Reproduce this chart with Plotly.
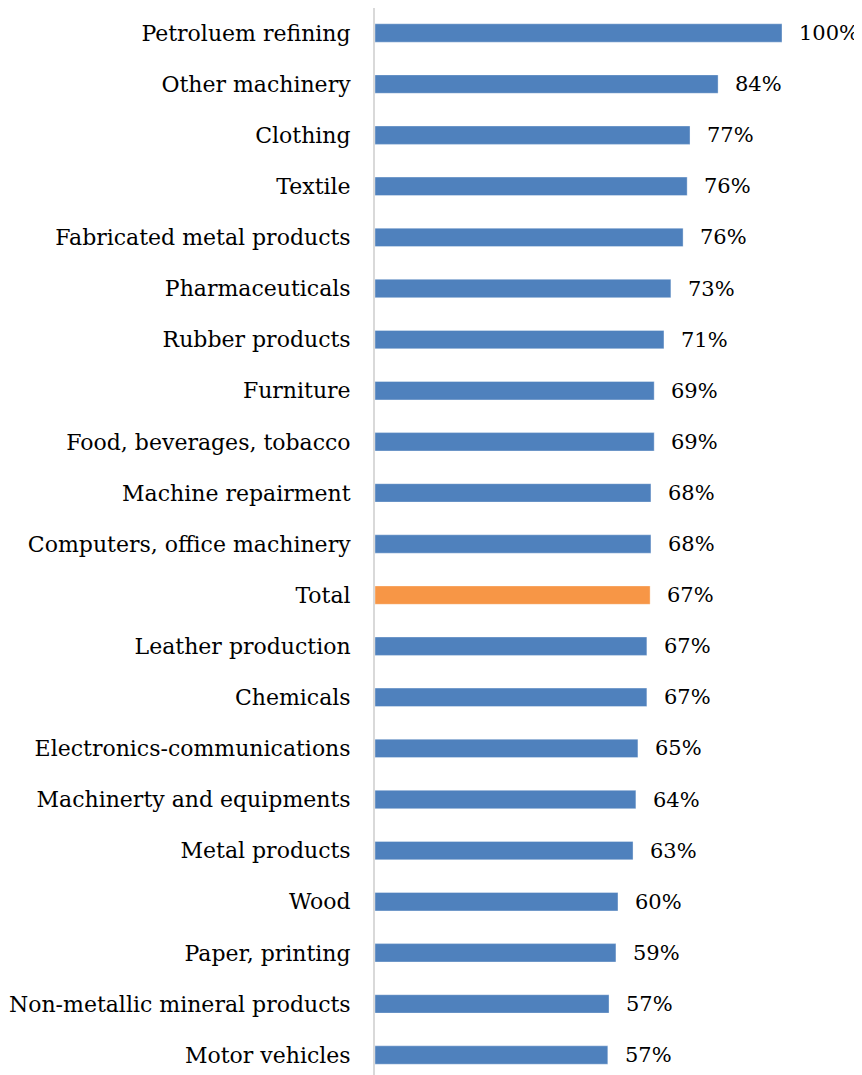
import plotly.graph_objects as go

categories = [
    "Petroluem refining", "Other machinery", "Clothing", "Textile",
    "Fabricated metal products", "Pharmaceuticals", "Rubber products",
    "Furniture", "Food, beverages, tobacco", "Machine repairment",
    "Computers, office machinery", "Total", "Leather production",
    "Chemicals", "Electronics-communications", "Machinerty and equipments",
    "Metal products", "Wood", "Paper, printing",
    "Non-metallic mineral products", "Motor vehicles",
]
values = [1.000, 0.843, 0.774, 0.767, 0.757, 0.727, 0.710, 0.686, 0.686,
          0.678, 0.678, 0.676, 0.668, 0.668, 0.646, 0.641, 0.634, 0.597,
          0.592, 0.575, 0.572]
labels = ["100%", "84%", "77%", "76%", "76%", "73%", "71%", "69%", "69%",
          "68%", "68%", "67%", "67%", "67%", "65%", "64%", "63%", "60%",
          "59%", "57%", "57%"]

BLUE = "#4F81BD"
ORANGE = "#F79646"
colors = [ORANGE if c == "Total" else BLUE for c in categories]

FONT = "DejaVu Serif"

fig = go.Figure()
fig.add_trace(go.Bar(
    x=values, y=categories, orientation="h",
    marker=dict(color=colors, line=dict(color="rgba(255,255,255,0.35)", width=1)),
    width=0.36, hoverinfo="skip",
))

for c, v, t in zip(categories, values, labels):
    fig.add_annotation(x=v, y=c, text=t, showarrow=False, xanchor="left",
                       xshift=15, font=dict(family=FONT, size=21, color="#000"))

fig.update_layout(
    width=854, height=1067,
    margin=dict(l=367, r=0, t=0, b=0, pad=0),
    paper_bgcolor="white", plot_bgcolor="white",
    showlegend=False,
    font=dict(family=FONT, size=22, color="#000"),
)
fig.update_xaxes(range=[0, 1.1966], visible=False, showgrid=False, zeroline=False)
fig.update_yaxes(
    range=[20.391, -0.489], showgrid=False, zeroline=False,
    showline=True, linecolor="#D9D9D9", linewidth=2,
    ticks="", ticklabelstandoff=18,
    tickfont=dict(family=FONT, size=22, color="#000"),
)

fig.write_html("out.html")
